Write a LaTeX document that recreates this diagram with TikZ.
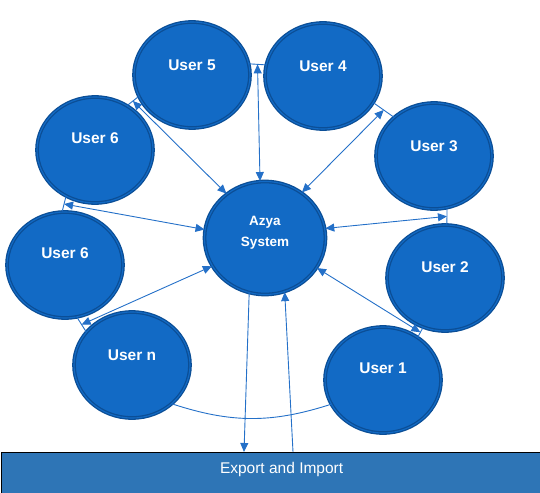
\documentclass[tikz,border=0pt]{standalone}
\usepackage{fontspec}
\setmainfont{Liberation Sans}
\usetikzlibrary{shapes.geometric,arrows.meta,calc}
\definecolor{ufill}{RGB}{18,106,197}
\definecolor{ubd}{RGB}{11,78,150}
\definecolor{lnk}{RGB}{36,112,200}
\definecolor{boxfill}{RGB}{46,117,182}
\tikzset{
  usr/.style={ellipse, draw=ubd, line width=1.3pt, double=ufill, double distance=1.1pt,
    fill=ufill, minimum width=116pt, minimum height=106pt, inner sep=0pt},
  ulabel/.style={text=white, font=\fontsize{15.5}{17}\selectfont\bfseries},
  lk/.style={draw=lnk, line width=0.9pt},
  dbl/.style={lk, {Triangle[length=9pt,width=8pt]}-{Triangle[length=9pt,width=8pt]}},
  one/.style={lk, -{Triangle[length=9pt,width=8pt]}},
  iobox/.style={draw=black, line width=1.2pt, fill=boxfill, rectangle, inner sep=0pt,
    anchor=north west, minimum width=560pt, minimum height=60pt}
}
\begin{document}
\begin{tikzpicture}[x=1pt,y=-1pt]
\useasboundingbox (0,0) rectangle (540,492);
\clip (0,0) rectangle (540,492);
% box
\node[iobox, label={[text=white, font=\fontsize{15.5}{17}\selectfont, yshift=13pt]center:Export and Import}] (box) at (1,452) {};
% users
\node[usr, label={[ulabel, yshift=10pt]center:User 5}] (u5) at (192,75) {};
\node[usr, label={[ulabel, yshift=10pt]center:User 4}] (u4) at (323,76) {};
\node[usr, label={[ulabel, yshift=12pt]center:User 6}] (u6a) at (95,150) {};
\node[usr, label={[ulabel, yshift=10pt]center:User 3}] (u3) at (434,156) {};
\node[usr, label={[ulabel, yshift=12pt]center:User 6}] (u6b) at (65,265) {};
\node[usr, label={[ulabel, yshift=11pt]center:User 2}] (u2) at (445,278) {};
\node[usr, label={[ulabel, yshift=10pt]center:User n}] (un) at (132,365) {};
\node[usr, label={[ulabel, yshift=12pt]center:User 1}] (u1) at (383,380) {};
\node[usr, minimum width=121pt, minimum height=113pt,
  label={[text=white, align=center, font=\fontsize{13.5}{21}\selectfont\bfseries, yshift=5pt]center:Azya\\System}] (az) at (265,238) {};
% short links between neighbours
\draw[lk] (u5.11) -- (u4.169) coordinate[pos=0.5] (m54);
\draw[lk] (u6a.54) -- (u5.202) coordinate[pos=0.5] (m65);
\draw[lk] (u4.332) -- (u3.136) coordinate[pos=0.5] (m43);
\draw[lk] (u3.284) -- (u2.88) coordinate[pos=0.5] (m32);
\draw[lk] (u6a.238) -- (u6b.93) coordinate[pos=0.5] (m66);
\draw[lk] (u6b.283) -- (un.144) coordinate[pos=0.5] (m6n);
\draw[lk] (u2.246) -- (u1.51) coordinate[pos=0.5] (m21);
\draw[lk] (un.316) to[bend right=18] (u1.205);
% arrows to the system
\draw[dbl] (m54) -- (az.95);
\draw[dbl] (m65) -- (az.131);
\draw[dbl] (m43) -- (az.51);
\draw[dbl] (az.9) -- (m32);
\draw[dbl] (m66) -- (az.172);
\draw[dbl] (m6n) -- (az.208);
\draw[dbl] (az.330) -- (m21);
% export / import
\draw[one] (az.254) -- ([xshift=243pt]box.north west);
\draw[one] ([xshift=292pt]box.north west) -- (az.290);
\end{tikzpicture}
\end{document}
